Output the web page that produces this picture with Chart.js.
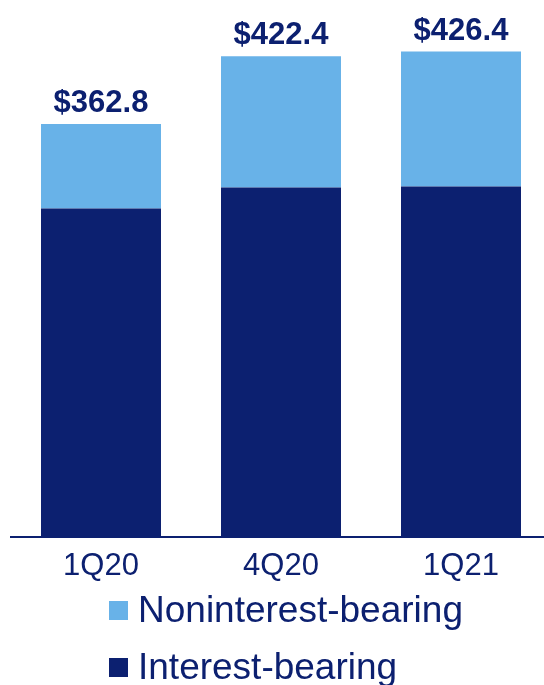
<!DOCTYPE html>
<html>
<head>
<meta charset="utf-8">
<script src="https://cdn.jsdelivr.net/npm/chart.js@4/dist/chart.umd.min.js"></script>
<style>
    html, body { margin: 0; padding: 0; background: #fff; overflow: hidden; }
    #page { position: relative; width: 544px; height: 685px; overflow: hidden; }
    #chart-wrap { position: absolute; left: 0; top: 0; width: 560px; height: 620px; }
    .legend-item { position: absolute; left: 0; top: 0; }
    .legend-box { position: absolute; width: 19px; height: 19px; }
    .legend-text {
        position: absolute; white-space: nowrap;
        font-family: "Liberation Sans", Arial, sans-serif;
        font-size: 37px; line-height: 37px; color: #0c2070;
    }
</style>
</head>
<body>
<div id="page">
    <div id="chart-wrap"><canvas id="deposits-chart" width="560" height="620"></canvas></div>
    <div id="legend"></div>
</div>
<script>
const quarters = ['1Q20', '4Q20', '1Q21'];
const interestBearing = [288.6, 307.0, 307.9];
const noninterestBearing = [74.2, 115.4, 118.5];

const NAVY = '#0c2070';
const LIGHT_BLUE = '#68b2e8';
const FONT = '"Liberation Sans", Arial, sans-serif';

// "$xxx.x" total above each stack
const totalLabels = {
    id: 'totalLabels',
    afterDatasetsDraw(chart) {
        const ctx = chart.ctx;
        const yScale = chart.scales.y;
        const xMeta = chart.getDatasetMeta(0);
        ctx.save();
        ctx.font = 'bold 31px ' + FONT;
        ctx.fillStyle = NAVY;
        ctx.textAlign = 'center';
        ctx.textBaseline = 'alphabetic';
        quarters.forEach((q, i) => {
            const total = interestBearing[i] + noninterestBearing[i];
            const x = xMeta.data[i].x;
            const y = yScale.getPixelForValue(total) - 12;
            ctx.fillText('$' + total.toFixed(1), x, y);
        });
        ctx.restore();
    }
};

const ctx = document.getElementById('deposits-chart').getContext('2d');
const chart = new Chart(ctx, {
    type: 'bar',
    data: {
        labels: quarters,
        datasets: [
            {
                label: 'Interest-bearing',
                data: interestBearing,
                backgroundColor: NAVY,
                stack: 'deposits'
            },
            {
                label: 'Noninterest-bearing',
                data: noninterestBearing,
                backgroundColor: LIGHT_BLUE,
                stack: 'deposits'
            }
        ]
    },
    options: {
        responsive: false,
        animation: false,
        events: [],
        layout: { padding: { top: 2, left: 11, right: 9, bottom: 32 } },
        datasets: {
            bar: { categoryPercentage: 1, barPercentage: 120 / 180, borderWidth: 0 }
        },
        plugins: {
            legend: { display: false },
            tooltip: { enabled: false }
        },
        scales: {
            x: {
                stacked: true,
                grid: { display: false },
                border: { display: true, color: NAVY, width: 2 },
                ticks: {
                    color: NAVY,
                    padding: 3,
                    font: { family: FONT, size: 31 }
                }
            },
            y: {
                stacked: true,
                display: false,
                min: 0,
                max: 470
            }
        }
    },
    plugins: [totalLabels]
});

// legend: top stack segment listed first
const legend = document.getElementById('legend');
const legendRows = [chart.data.datasets[1], chart.data.datasets[0]];
legendRows.forEach((ds, i) => {
    const top = 601 + i * 57;
    const item = document.createElement('div');
    item.className = 'legend-item';
    item.innerHTML =
        `<div class="legend-box" style="left:109px;top:${top}px;background:${ds.backgroundColor}"></div>` +
        `<div class="legend-text" style="left:138px;top:${top - 10}px">${ds.label}</div>`;
    legend.appendChild(item);
});
</script>
</body>
</html>
